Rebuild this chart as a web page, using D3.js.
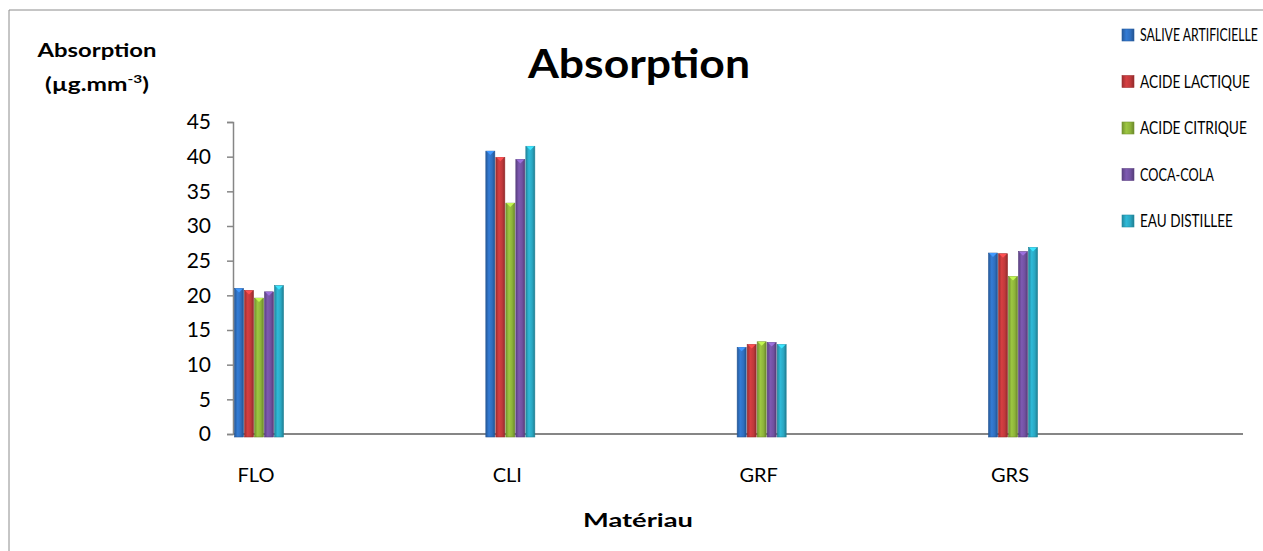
<!DOCTYPE html>
<html><head><meta charset="utf-8">
<script src="https://cdn.jsdelivr.net/npm/d3@7/dist/d3.min.js"></script>
<style>body{margin:0;background:#fff}svg{display:block}text{font-family:Lato,"Open Sans",sans-serif;fill:#000}</style>
</head><body><svg id="c" width="1263" height="551"></svg>
<script>
const categories = ["FLO","CLI","GRF","GRS"];
const seriesNames = ["SALIVE ARTIFICIELLE","ACIDE LACTIQUE","ACIDE CITRIQUE","COCA-COLA","EAU DISTILLEE"];
const salive = [21.0, 40.8, 12.5, 26.1];
const lactique = [20.7, 39.9, 12.9, 26.0];
const citrique = [19.6, 33.3, 13.3, 22.7];
const cocacola = [20.5, 39.6, 13.2, 26.3];
const eau = [21.4, 41.5, 12.9, 26.9];
const yTicks = [0,5,10,15,20,25,30,35,40,45];
const colors = ["#2f6fbf","#c0393b","#8db33a","#7151a0","#2aa7c2"];
const series = [salive, lactique, citrique, cocacola, eau];

const svg = d3.select("#c");
const defs = svg.append("defs");
colors.forEach((c,i)=>{
  const g = defs.append("linearGradient").attr("id","g"+i).attr("x1","0").attr("x2","1").attr("y1","0").attr("y2","0");
  const base = d3.color(c);
  g.append("stop").attr("offset","0%").attr("stop-color", base.darker(0.6));
  g.append("stop").attr("offset","35%").attr("stop-color", base.brighter(0.3));
  g.append("stop").attr("offset","70%").attr("stop-color", base);
  g.append("stop").attr("offset","100%").attr("stop-color", base.darker(0.8));
});

function fit(sel, w){
  const n = sel.node();
  const cur = n.getComputedTextLength();
  if (Math.abs(cur - w) > 1) sel.attr("textLength", w).attr("lengthAdjust","spacingAndGlyphs");
  return sel;
}

// chart border
svg.append("path").attr("d","M9,551V10H1263").attr("fill","none").attr("stroke","#8c8c8c").attr("stroke-width",1);

const y = d3.scaleLinear().domain([0,45]).range([434,122]);
const x = d3.scalePoint().domain(categories).range([259,1013]);
const xs = d3.scaleBand().domain(d3.range(seriesNames.length)).range([-25,25]).padding(0);

// axes
const yAxis = svg.append("g").attr("transform","translate(233,0)")
  .call(d3.axisLeft(y).tickValues(yTicks).tickSize(6).tickPadding(16).tickFormat(d3.format("d")));
yAxis.select(".domain").attr("stroke","#868686").attr("stroke-width",1.5);
yAxis.selectAll(".tick line").attr("stroke","#868686").attr("stroke-width",1.5);
yAxis.selectAll("text").style("font-size","21px").style("font-family","Lato, sans-serif").attr("fill","#000");

svg.append("line").attr("x1",233).attr("x2",1243).attr("y1",y(0)).attr("y2",y(0)).attr("stroke","#868686").attr("stroke-width",2);

// bars
series.forEach((vals,si)=>{
  const g = svg.append("g");
  vals.forEach((v,ci)=>{
    const bx = x(categories[ci]) + xs(si);
    const w = xs.bandwidth();
    g.append("rect").attr("x",bx+0.5).attr("y",y(v)).attr("width",w-1).attr("height",y(0)-y(v)+3)
      .attr("fill","url(#g"+si+")").attr("stroke",d3.color(colors[si]).darker(0.7)).attr("stroke-width",0.6);
    g.append("path").attr("d",`M${bx+1},${y(v)}L${bx+w-1},${y(v)}L${bx+w/2},${y(v)+4}Z`)
      .attr("fill",d3.color(colors[si]).brighter(0.9));
  });
});

// x tick labels
svg.selectAll(".xl").data(categories).enter().append("text")
  .attr("x",d=>x(d)-3).attr("y",482).attr("text-anchor","middle").style("font-size","20px").text(d=>d);

// titles
fit(svg.append("text").attr("x",639).attr("y",78).attr("text-anchor","middle")
  .style("font-size","40px").style("font-weight","bold").text("Absorption"), 222);
fit(svg.append("text").attr("x",97).attr("y",57).attr("text-anchor","middle")
  .style("font-size","19px").style("font-weight","bold").text("Absorption"), 119);
const u = svg.append("text").attr("x",97).attr("y",91).attr("text-anchor","middle")
  .style("font-size","19px").style("font-weight","bold");
u.append("tspan").text("(µg.mm");
u.append("tspan").attr("dy",-8).style("font-size","12px").text("-3");
u.append("tspan").attr("dy",8).text(")");
fit(u, 104);
fit(svg.append("text").attr("x",638).attr("y",527).attr("text-anchor","middle")
  .style("font-size","19px").style("font-weight","bold").text("Matériau"), 110);

// legend
const legendW = [118, 110, 107, 74, 93];
const lg = svg.append("g");
seriesNames.forEach((n,i)=>{
  const ly = 35 + i*46.5;
  lg.append("rect").attr("x",1122).attr("y",ly-6).attr("width",12).attr("height",12)
    .attr("fill","url(#g"+i+")").attr("stroke",d3.color(colors[i]).darker(0.5)).attr("stroke-width",0.6);
  const tg = lg.append("g");
  const t = tg.append("text").attr("x",0).attr("y",0).style("font-size","17px").text(n);
  const w0 = t.node().getComputedTextLength();
  const sx = Math.min(1, legendW[i] / w0);
  tg.attr("transform",`translate(1140,${ly+6}) scale(${sx},1)`);
});
</script></body></html>
